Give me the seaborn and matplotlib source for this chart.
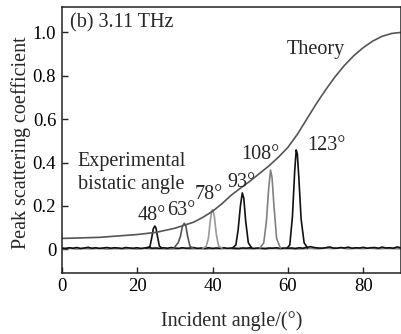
import numpy as np
import pandas as pd
import matplotlib
matplotlib.use("Agg")
import matplotlib.pyplot as plt
import seaborn as sns

# theory curve
theory_x = [0, 10, 20, 25, 30, 35, 37.5, 40, 42.5, 45, 47.5, 50, 52.5, 55, 57.5, 60,
            62.5, 65, 67.5, 70, 72.5, 75, 77.5, 80, 82.5, 85, 87.5, 90]
theory_y = [0.05, 0.055, 0.068, 0.078, 0.097, 0.125, 0.148, 0.175, 0.21, 0.25, 0.283, 0.315,
            0.35, 0.385, 0.425, 0.47, 0.53, 0.6, 0.67, 0.735, 0.795, 0.848, 0.893, 0.93,
            0.96, 0.982, 0.995, 1.0]

# measured baselines (noise around zero)
base_black_y = [0.006, 0.004, 0.007, 0.005, 0.008, 0.004, 0.006, 0.009, 0.005, 0.007,
                0.004, 0.006, 0.008, 0.005, 0.007, 0.006, 0.004, 0.008, 0.006, 0.005,
                0.007, 0.004, 0.006, 0.009, 0.005, 0.006, 0.004, 0.007, 0.005, 0.008,
                0.006, 0.004, 0.007, 0.005, 0.006, 0.008, 0.004, 0.006, 0.005, 0.007,
                0.004, 0.006, 0.005, 0.007, 0.004, 0.006, 0.005, 0.004, 0.006, 0.005,
                0.007, 0.004, 0.006, 0.005, 0.004, 0.006, 0.005, 0.007, 0.004, 0.006,
                0.005, 0.006, 0.004, 0.007, 0.005, 0.009, 0.012, 0.008, 0.006, 0.005,
                0.007, 0.011, 0.006, 0.005, 0.008, 0.006, 0.010, 0.005, 0.007, 0.006,
                0.009, 0.005, 0.007, 0.008, 0.005, 0.010, 0.006, 0.007, 0.005, 0.011, 0.006]
base_black_x = list(range(0, 91))

base_gray_y = [0.002, 0.004, 0.001, 0.003, 0.002, 0.004, 0.001, 0.003, 0.002, 0.003,
               0.001, 0.004, 0.002, 0.003, 0.001, 0.002, 0.004, 0.002, 0.003, 0.001,
               0.003, 0.002, 0.004, 0.001, 0.003, 0.002, 0.003, 0.001, 0.004, 0.002,
               0.003, 0.001, 0.002, 0.004, 0.002, 0.005, 0.003, 0.006, 0.002, 0.004,
               0.003, 0.005, 0.002, 0.004, 0.003, 0.002]
base_gray_x = list(range(0, 91, 2))

# peaks for each bistatic angle
p48_x = [22.5, 23.4, 23.9, 24.3, 24.7, 25.0, 25.4, 25.9, 26.6]
p48_y = [0.005, 0.012, 0.055, 0.095, 0.107, 0.098, 0.06, 0.015, 0.005]
p63_x = [29.8, 30.4, 30.9, 31.5, 32.0, 32.5, 32.9, 33.4, 34.0, 34.8]
p63_y = [0.005, 0.02, 0.03, 0.06, 0.105, 0.12, 0.11, 0.06, 0.015, 0.005]
p78_x = [37.4, 38.3, 38.9, 39.4, 39.8, 40.1, 40.5, 41.0, 41.6, 42.5]
p78_y = [0.006, 0.012, 0.05, 0.13, 0.178, 0.183, 0.15, 0.07, 0.015, 0.006]
p93_x = [45.3, 46.2, 46.8, 47.4, 47.9, 48.3, 48.8, 49.5, 50.4]
p93_y = [0.006, 0.02, 0.09, 0.2, 0.26, 0.235, 0.13, 0.03, 0.006]
p108_x = [52.6, 53.6, 54.3, 54.9, 55.4, 55.8, 56.3, 57.0, 58.0]
p108_y = [0.006, 0.03, 0.13, 0.28, 0.365, 0.33, 0.2, 0.05, 0.006]
p123_x = [59.8, 60.5, 61.2, 61.8, 62.2, 62.5, 62.9, 63.5, 64.3, 65.2]
p123_y = [0.006, 0.02, 0.15, 0.36, 0.458, 0.44, 0.33, 0.14, 0.03, 0.006]

peak_labels = ["48°", "63°", "78°", "93°", "108°", "123°"]
label_x = [23.9, 31.8, 38.9, 47.6, 52.6, 70.1]
label_y = [0.158, 0.181, 0.253, 0.308, 0.439, 0.477]

sns.set_style("ticks")
plt.rcParams['font.family'] = ['Liberation Serif', 'DejaVu Serif']
fs = 13.5   # tick labels
fa = 14.5   # annotations and axis labels

fig = plt.figure(figsize=(4.01, 3.34), dpi=100)
ax = fig.add_axes([0.1539, 0.1835, 0.8461, 0.7955])

lw = 1.2
sns.lineplot(x=base_gray_x, y=base_gray_y, ax=ax, color='#888888', lw=lw, estimator=None)
sns.lineplot(x=base_black_x, y=base_black_y, ax=ax, color='#111111', lw=lw, estimator=None)

peaks = [(p48_x, p48_y, '#111111'), (p63_x, p63_y, '#555555'), (p78_x, p78_y, '#9a9a9a'),
         (p93_x, p93_y, '#111111'), (p108_x, p108_y, '#808080'), (p123_x, p123_y, '#111111')]
for px, py, c in peaks:
    sns.lineplot(x=px, y=py, ax=ax, color=c, lw=lw, estimator=None)

sns.lineplot(x=theory_x, y=theory_y, ax=ax, color='#555555', lw=1.2, estimator=None)

for t, tx, ty in zip(peak_labels, label_x, label_y):
    ax.text(tx, ty, t, ha='center', va='center', fontsize=fa)

ax.text(16.0, 1.043, "(b) 3.11 THz", ha='center', va='center', fontsize=fa)
ax.text(67.5, 0.921, "Theory", ha='center', va='center', fontsize=fa)
ax.text(4.3, 0.407, "Experimental", ha='left', va='center', fontsize=fa)
ax.text(4.3, 0.300, "bistatic angle", ha='left', va='center', fontsize=fa)

ax.set_xlim(0, 90)
ax.set_ylim(-0.108, 1.117)
ax.set_xticks([0, 20, 40, 60, 80])
ax.set_xticklabels(['0', '20', '40', '60', '80'])
ax.set_yticks([0, 0.2, 0.4, 0.6, 0.8, 1.0])
ax.set_yticklabels(['0', '0.2', '0.4', '0.6', '0.8', '1.0'])
ax.tick_params(direction='in', length=4, width=1, colors='#222222', labelcolor='black', labelsize=fs, pad=4)
for s in ax.spines.values():
    s.set_linewidth(1.1)
    s.set_color('#222222')

ax.set_xlabel("Incident angle/(°)", fontsize=fa)
ax.set_ylabel("Peak scattering coefficient", fontsize=fa)
ax.xaxis.set_label_coords(0.5, -0.145)
ax.yaxis.set_label_coords(-0.09, 0.49)

fig.savefig("out.png", dpi=100)
